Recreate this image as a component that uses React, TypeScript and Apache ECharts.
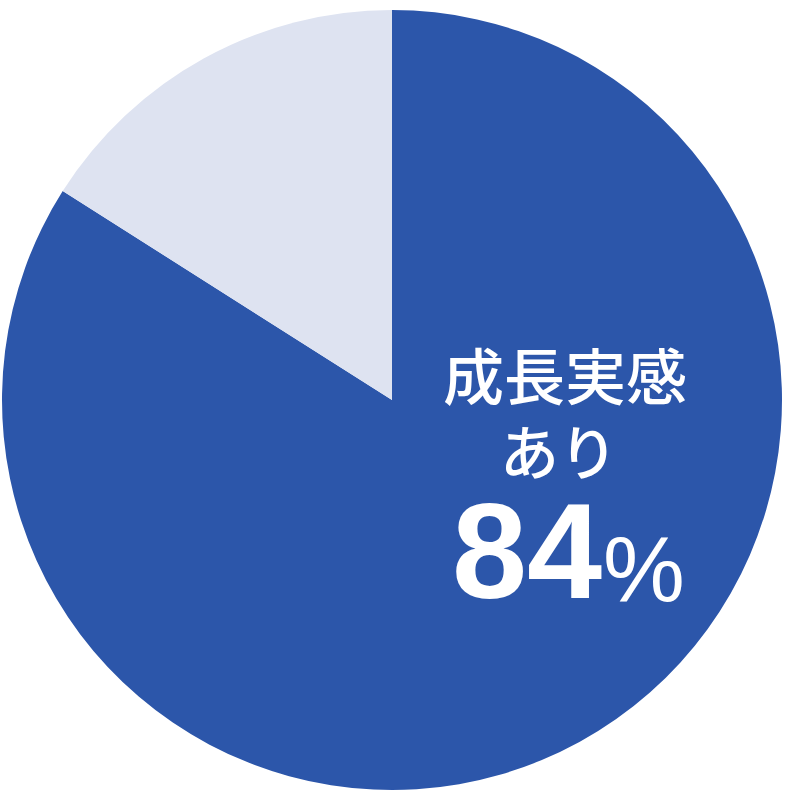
import React, { useEffect, useRef } from "react";
import * as echarts from "echarts";

const categories = ["成長実感あり", "成長実感なし"];
const values = [84, 16];
const colors = ["#2C56AA", "#DEE3F1"];

const App: React.FC = () => {
  const chartRef = useRef<HTMLDivElement>(null);

  useEffect(() => {
    if (!chartRef.current) return;
    const chart = echarts.init(chartRef.current, undefined, { renderer: "svg" });

    chart.setOption({
      animation: false,
      series: [
        {
          type: "pie",
          center: [392, 400],
          radius: [0, 390],
          startAngle: 90,
          clockwise: true,
          silent: true,
          label: { show: false },
          labelLine: { show: false },
          itemStyle: { borderWidth: 0 },
          data: categories.map((name, i) => ({
            name,
            value: values[i],
            itemStyle: { color: colors[i] },
          })),
        },
      ],
      graphic: [
        {
          type: "text",
          x: 565,
          y: 373,
          z: 100,
          style: {
            text: "成長実感",
            fill: "#fff",
            font: '500 61px "Noto Sans CJK JP"',
            lineHeight: 62,
            align: "center",
            verticalAlign: "middle",
          },
        },
        {
          type: "text",
          x: 559,
          y: 449,
          z: 100,
          style: {
            text: "あり",
            fill: "#fff",
            font: '500 59px "Noto Sans CJK JP"',
            lineHeight: 60,
            align: "center",
            verticalAlign: "middle",
          },
        },
        {
          type: "text",
          x: 527,
          y: 551,
          z: 100,
          style: {
            text: String(values[0]),
            fill: "#fff",
            font: 'bold 135px "Liberation Sans"',
            lineHeight: 110,
            align: "center",
            verticalAlign: "middle",
          },
        },
        {
          type: "text",
          x: 644,
          y: 569,
          z: 100,
          style: {
            text: "%",
            fill: "#fff",
            font: '400 92px "Liberation Sans"',
            lineHeight: 80,
            align: "center",
            verticalAlign: "middle",
          },
        },
      ],
    });

    return () => chart.dispose();
  }, []);

  return (
    <div
      ref={chartRef}
      style={{ position: "fixed", left: 0, top: 0, width: "800px", height: "800px", background: "#fff" }}
    />
  );
};

export default App;
